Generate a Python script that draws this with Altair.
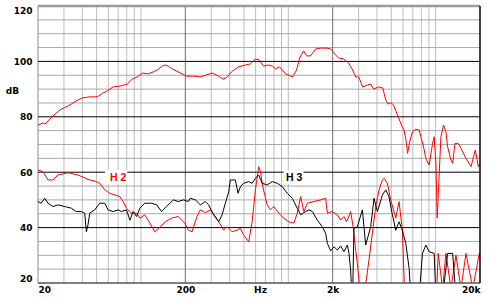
import altair as alt
import pandas as pd

# ---- data (frequency in Hz, level in dB) ----
main_f = [20, 21.6, 22.3, 24.9, 28.2, 33.0, 36.2, 39.8, 45.1, 50.4, 55.3, 58.9, 64.7, 72.2, 80.6,
          87.2, 94.3, 102, 112, 121, 129, 139.5, 146, 153, 163, 179, 203, 227, 253, 278, 305,
          335, 362, 386, 411, 458, 512, 553, 598, 637, 678, 734, 781, 819, 872, 958, 1069, 1138,
          1193, 1270, 1331, 1417, 1533, 1658, 1821, 1939, 2096, 2197, 2375, 2568, 2734, 2865,
          3003, 3197, 3457, 3624, 3798, 4108, 4374, 4584, 4752, 4958, 5172, 5447, 5864, 6108,
          6342, 6442, 6710, 6968, 7336, 7726, 7935, 8276, 8582, 9036, 9532, 9774, 10038, 10244,
          10857, 11326, 11742, 12058, 12699, 13042, 13521, 14238, 14855, 16066, 17376, 18588,
          19482, 20000]
main_db = [77.0, 77.8, 77.4, 80.0, 82.5, 84.3, 85.7, 86.8, 87.2, 87.2, 88.6, 89.3, 90.8, 91.1, 91.8,
           93.6, 94.4, 95.8, 95.5, 96.2, 96.9, 98.3, 98.7, 98.3, 97.3, 96.2, 94.7, 94.7, 94.4, 95.1,
           95.8, 94.7, 93.6, 94.4, 96.2, 98.0, 98.7, 99.1, 100.9, 100.5, 98.3, 98.7, 98.3, 97.3,
           98.0, 95.5, 94.4, 96.9, 101.2, 103.8, 102.0, 102.0, 104.5, 104.8, 104.8, 104.5, 102.3,
           101.2, 100.9, 99.4, 96.9, 94.4, 94.4, 90.8, 91.5, 91.8, 90.0, 90.8, 90.4, 86.1, 84.6,
           85.1, 84.3, 81.3, 77.0, 75.2, 70.4, 66.8, 71.6, 74.6, 75.5, 75.2, 72.8, 69.2, 65.0,
           62.6, 70.4, 72.8, 63.3, 43.5, 72.8, 77.0, 74.6, 69.2, 64.4, 63.2, 70.4, 70.4, 68.6,
           65.0, 62.0, 68.0, 62.0, 63.2]

h2_f = [20, 21.6, 23.4, 25.3, 27.3, 32.0, 37.4, 43.7, 49.8, 52.5, 56.8, 61.5, 66.5, 71.9, 75.7,
        79.7, 86.2, 93.3, 98.3, 106, 115, 124, 135, 146, 161, 179, 198, 210, 222, 240, 253, 273,
        296, 320, 337, 364, 384, 415, 449, 473, 498, 539, 568, 598, 629, 647, 671, 719, 757, 797,
        862, 933, 1008, 1091, 1150, 1212, 1276, 1346, 1492, 1658, 1793, 1841, 1980, 2152, 2266,
        2386, 2489, 2650, 2764, 2865, 2942, 3018, 3099, 3262, 3528, 3720, 3919, 4128, 4354, 4474,
        4702, 4958, 5361, 5646, 5942, 6174, 8000, 10038, 10400, 11152, 11742, 12699, 13736,
        14855, 16066, 17860, 19800, 20000]
h2_db = [60.8, 60.2, 57.2, 57.2, 59.0, 59.8, 59.0, 57.4, 56.6, 56.0, 53.6, 52.4, 51.8, 51.2, 49.4,
         47.0, 45.2, 45.2, 43.4, 44.6, 41.6, 38.5, 40.3, 42.1, 43.4, 44.0, 41.6, 39.1, 38.5, 44.0,
         46.4, 45.4, 46.4, 44.0, 42.1, 39.1, 40.3, 38.5, 39.1, 39.7, 37.3, 34.9, 42.1, 53.6, 62.0,
         60.2, 54.8, 48.2, 46.4, 47.6, 45.2, 43.4, 42.1, 41.6, 45.2, 51.2, 45.8, 48.8, 49.4, 50.0,
         50.6, 45.2, 45.8, 44.6, 42.7, 44.0, 42.1, 45.8, 39.7, 31.9, 27.1, 21.1, 10, 15, 28.3,
         38.0, 47.6, 53.6, 57.2, 57.8, 56.0, 50.0, 43.4, 49.4, 39.1, 15, 10, 10, 30.7, 18, 30.7,
         18, 30.1, 18, 30.7, 18, 30.7, 30.7]

h3_f = [20, 21.0, 22.2, 23.4, 25.3, 27.3, 30.4, 33.7, 36.4, 39.4, 41.5, 42.6, 43.7, 44.9, 48.5,
        52.5, 56.8, 59.8, 64.7, 70.0, 73.6, 79.7, 84.1, 88.5, 93.3, 98.3, 106, 118, 128, 138, 149,
        166, 179, 194, 210, 216, 234, 253, 273, 288, 311, 337, 355, 374, 394, 404, 437, 456, 473,
        498, 539, 568, 598, 629, 665, 719, 777, 841, 909, 983, 1063, 1150, 1212, 1310, 1381, 1455,
        1574, 1701, 1793, 1841, 1939, 2041, 2152, 2266, 2386, 2517, 2580, 2650, 2720, 2790, 2942,
        3182, 3350, 3624, 3816, 4024, 4354, 4584, 4820, 5088, 5361, 5646, 5942, 6272, 6606, 6783,
        7726, 8140, 8582, 9036, 9774, 10038, 11152, 12058, 13042, 13736, 20000]
h3_db = [49.4, 48.8, 50.6, 48.8, 47.6, 48.2, 47.6, 47.0, 45.8, 45.8, 45.2, 38.5, 41.0, 45.2, 46.4,
         48.8, 48.8, 46.4, 45.8, 46.4, 45.8, 46.4, 42.7, 45.8, 44.0, 47.0, 48.8, 48.8, 48.2, 45.8,
         47.6, 50.0, 49.4, 50.0, 49.4, 50.6, 50.0, 48.2, 49.4, 48.2, 44.6, 42.1, 44.6, 48.8, 53.0,
         57.2, 57.2, 52.4, 54.8, 56.0, 56.6, 56.0, 57.8, 59.0, 56.0, 55.4, 56.6, 56.0, 54.8, 52.4,
         50.6, 47.0, 44.6, 45.8, 46.4, 45.8, 42.7, 40.3, 37.9, 34.3, 31.6, 33.1, 31.9, 33.4, 31.3,
         33.7, 30.7, 24.7, 10, 39.7, 40.3, 46.4, 33.7, 40.3, 50.6, 45.8, 51.8, 53.6, 51.2, 44.6,
         39.0, 42.1, 39.1, 34.3, 25.3, 15, 15, 30.7, 33.7, 31.3, 30.7, 15, 15, 30.7, 30.7, 15, 10]

# grid / tick values
minor_x = [30, 40, 50, 60, 70, 80, 90, 100, 300, 400, 500, 600, 700, 800, 900, 1000,
           3000, 4000, 5000, 6000, 7000, 8000, 9000, 10000]
major_x = [200, 2000]
minor_y = [25, 30, 35, 45, 50, 55, 65, 70, 75, 85, 90, 95, 105, 110, 115]
major_y = [40, 60, 80, 100]
x_ticks = [20, 200, 2000, 20000]
y_ticks = [20, 40, 60, 80, 100, 120]

# annotations
lab_text = ["H 2", "H 3"]
lab_f = [70, 1094]
lab_db = [57.9, 57.9]
lab_color = ["#ff0000", "#000000"]
box_f1 = [57, 930]
box_f2 = [80.6, 1270]
box_db1 = [55.8, 55.8]
box_db2 = [60.8, 60.8]

rows = []
for name, fs, ds in (("main", main_f, main_db), ("H2", h2_f, h2_db), ("H3", h3_f, h3_db)):
    for f, d in zip(fs, ds):
        rows.append({"f": f, "db": d, "s": name})
df = pd.DataFrame(rows)

FONT = "DejaVu Sans"
xs = alt.Scale(type="log", domain=[20, 20000], nice=False)
ys = alt.Scale(domain=[20, 120], nice=False, zero=False)

x_axis = alt.Axis(
    values=x_ticks,
    labelExpr="datum.value == 20 ? '20' : datum.value == 200 ? '200' : datum.value == 2000 ? '2k' : '20k'",
    grid=False, ticks=False, domain=False, labelFlush=True, labelPadding=2,
    labelFont=FONT, labelFontSize=9, labelFontWeight="bold", labelColor="black",
    title="Hz", titleX=222, titleY=2, titleBaseline="top", titleAlign="center",
    titleFont=FONT, titleFontSize=9, titleFontWeight="bold", titleColor="black",
)
y_axis = alt.Axis(
    values=y_ticks, grid=False, ticks=False, domain=False, labelFlush=True, labelPadding=6,
    labelFont=FONT, labelFontSize=9, labelFontWeight="bold", labelColor="black",
    title="dB", titleAngle=0, titleX=-26, titleY=84, titleAlign="center", titleBaseline="middle",
    titleFont=FONT, titleFontSize=9, titleFontWeight="bold", titleColor="black",
)
X = alt.X("f:Q", scale=xs, axis=x_axis)
Y = alt.Y("db:Q", scale=ys, axis=y_axis)


def vrules(vals, color, width=1.0):
    return alt.Chart(pd.DataFrame({"f": vals})).mark_rule(color=color, strokeWidth=width).encode(x=X)


def hrules(vals, color, width=1.0):
    return alt.Chart(pd.DataFrame({"db": vals})).mark_rule(color=color, strokeWidth=width).encode(y=Y)


grid = [
    vrules(minor_x, "#bdbdbd"),
    hrules(minor_y, "#a8a8a8"),
    vrules(major_x, "#6e6e6e"),
    vrules([20], "#8a8a8a"),
    hrules(major_y, "#000000"),
]

boxes = alt.Chart(pd.DataFrame({"f": box_f1, "f2": box_f2, "db": box_db1, "db2": box_db2})).mark_rect(
    color="white", opacity=1
).encode(x=X, x2="f2:Q", y=Y, y2="db2:Q")

lines = alt.Chart(df).mark_line(clip=True, strokeWidth=1).encode(
    x=X, y=Y, detail="s:N",
    color=alt.Color("s:N", scale=alt.Scale(domain=["main", "H2", "H3"],
                                           range=["#ff0000", "#ff0000", "#000000"]), legend=None),
)

borders = [
    hrules([120], "#9a9a9a", 2.5),
    hrules([20], "#555555", 1.5),
    vrules([20000], "#000000", 1.5),
]

labels = alt.Chart(pd.DataFrame({"f": lab_f, "db": lab_db, "t": lab_text, "c": lab_color})).mark_text(
    font="Liberation Sans", fontSize=10.5, fontWeight="bold", align="center", baseline="middle"
).encode(x=X, y=Y, text="t:N", color=alt.Color("c:N", scale=None))

chart = alt.layer(*grid, boxes, lines, *borders, labels).properties(
    width=442, height=277,
    autosize=alt.AutoSizeParams(type="none"),
    padding={"left": 38, "top": 6, "right": 20, "bottom": 17},
    background="white",
).configure_view(stroke=None)

chart.save("out.html", embed_options={"renderer": "svg", "actions": False})
